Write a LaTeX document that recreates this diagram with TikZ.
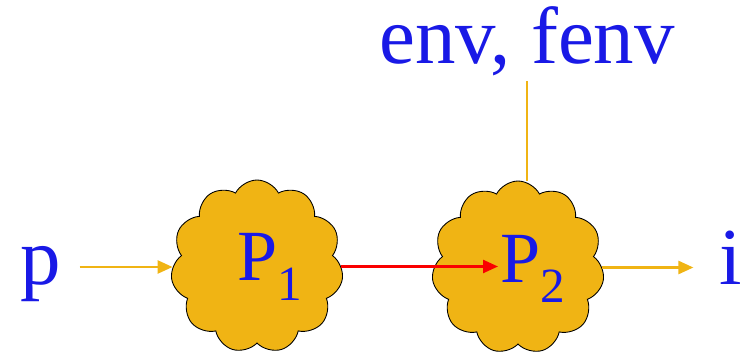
\documentclass[tikz,border=0pt]{standalone}
\usepackage{fontspec}
\setmainfont{Liberation Serif}
\newfontfamily\diagfont{Liberation Serif}
\usepackage{tikz}
\usetikzlibrary{positioning, arrows.meta, shapes.symbols}
\usepackage{xcolor}
\definecolor{cloudgold}{RGB}{240,180,20}
\definecolor{textblue}{RGB}{25,25,230}
\definecolor{flowred}{RGB}{250,0,0}

\begin{document}
\begin{tikzpicture}[
  proc/.style={cloud, cloud puffs=11, cloud puff arc=125, aspect=1, draw=black, line width=0.5pt, fill=cloudgold, inner sep=0pt, minimum width=3.45cm, minimum height=3.46cm},
  lbl/.style={text=textblue, font=\diagfont\fontsize{46}{54}\selectfont, anchor=base, inner ysep=0pt},
  pname/.style={text=textblue, font=\diagfont\fontsize{41}{48}\selectfont, anchor=base west, inner ysep=0pt, inner xsep=0.05cm},
  arr/.style={-{Triangle[length=0.3cm, width=0.26cm]}, line width=1.4pt},
  link/.style={draw=cloudgold, line width=0.8pt}
]
\useasboundingbox (0,0) rectangle (15,7.06);
\node[proc] (c1) at (5.14,1.73) {};
\node[proc] (c2) at (10.36,1.71) {};
\node[pname] (t1) at (4.70,1.46) {P\raisebox{-0.28em}{\fontsize{28}{28}\selectfont 1}};
\node[pname] (t2) at (9.96,1.42) {P\raisebox{-0.28em}{\fontsize{28}{28}\selectfont 2}};
\node[lbl, inner xsep=0.36cm] (p) at (0.82,1.38) {p};
\node[lbl, inner xsep=0.52cm] (i) at (14.62,1.38) {i};
\node[lbl, inner ysep=0.1cm] (env) at (10.54,5.80) {env, fenv};
\draw[arr, cloudgold] (p.east |- 0,1.72) -- (c1.west |- 0,1.72);
\draw[arr, flowred] (c1.east) -- (t2.west |- c1.east);
\draw[arr, cloudgold] (c2.east) -- (i.west |- c2.east);
\draw[link] (env.south) -- (env.south |- c2.north);
\end{tikzpicture}
\end{document}
